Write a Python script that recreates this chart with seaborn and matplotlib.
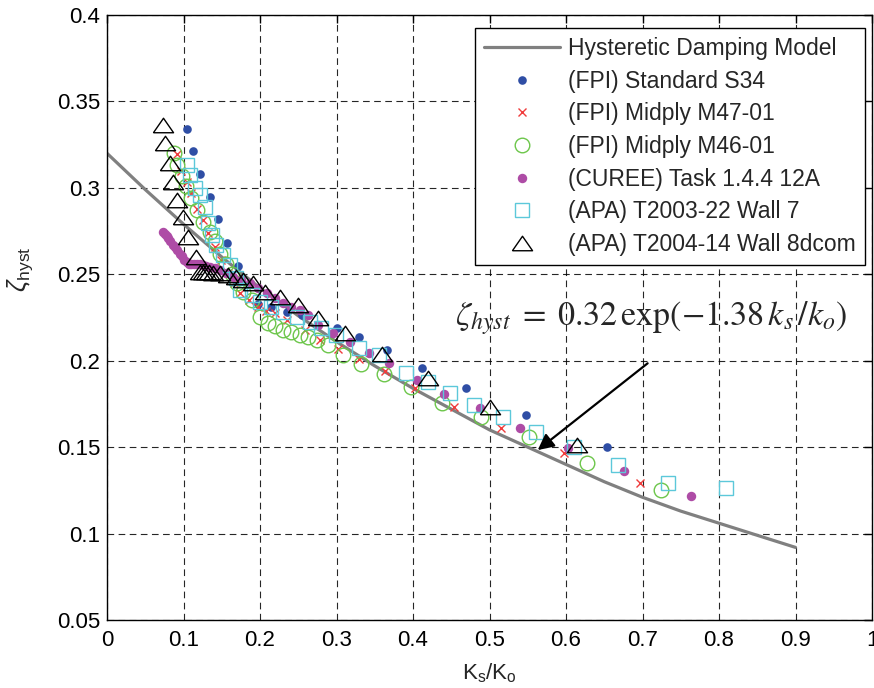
import matplotlib
matplotlib.use("Agg")
import matplotlib.pyplot as plt
import seaborn as sns
import pandas as pd

# ---------------- data ----------------
model_x = [0.0, 0.05, 0.1, 0.15, 0.2, 0.25, 0.3, 0.35, 0.4, 0.45, 0.5, 0.55, 0.6, 0.65, 0.7, 0.75, 0.8, 0.85, 0.9]
model_y = [0.320, 0.299, 0.279, 0.260, 0.242, 0.226, 0.211, 0.197, 0.184, 0.172, 0.160, 0.150, 0.140, 0.130,
           0.121, 0.113, 0.106, 0.099, 0.092]

s34_x = [0.105, 0.113, 0.122, 0.134, 0.145, 0.157, 0.171, 0.197, 0.215, 0.235, 0.2555, 0.300, 0.329, 0.366,
         0.412, 0.469, 0.548, 0.653]
s34_y = [0.334, 0.3215, 0.308, 0.295, 0.282, 0.268, 0.255, 0.233, 0.231, 0.228, 0.2264, 0.2187, 0.214, 0.206,
         0.196, 0.184, 0.1686, 0.150]

m47_x = [0.091, 0.097, 0.104, 0.110, 0.117, 0.126, 0.132, 0.141, 0.149, 0.158, 0.166, 0.174, 0.185, 0.197,
         0.208, 0.219, 0.235, 0.2585, 0.278, 0.302, 0.330, 0.363, 0.402, 0.454, 0.515, 0.598, 0.697]
m47_y = [0.3195, 0.310, 0.3035, 0.2968, 0.288, 0.2814, 0.2737, 0.266, 0.258, 0.251, 0.245, 0.239, 0.235, 0.231,
         0.229, 0.2274, 0.2236, 0.2178, 0.212, 0.207, 0.2008, 0.194, 0.184, 0.1734, 0.161, 0.1468, 0.129]

m46_x = [0.087, 0.092, 0.098, 0.103, 0.110, 0.117, 0.125, 0.134, 0.141, 0.148, 0.156, 0.163, 0.170, 0.178,
         0.189, 0.200, 0.210, 0.220, 0.230, 0.240, 0.252, 0.263, 0.275, 0.289, 0.308, 0.332, 0.362, 0.397,
         0.438, 0.489, 0.551, 0.627, 0.724]
m46_y = [0.320, 0.313, 0.307, 0.301, 0.294, 0.287, 0.280, 0.2746, 0.269, 0.262, 0.256, 0.250, 0.245, 0.240,
         0.235, 0.2254, 0.222, 0.220, 0.218, 0.2165, 0.2149, 0.2135, 0.212, 0.209, 0.2035, 0.198, 0.1923, 0.185,
         0.1757, 0.1673, 0.1557, 0.1407, 0.1252]

curee_x = [0.0736, 0.076, 0.078, 0.080, 0.083, 0.086, 0.089, 0.092, 0.095, 0.098, 0.101, 0.104, 0.107, 0.110,
           0.114, 0.118, 0.122, 0.126, 0.130, 0.135, 0.141, 0.148, 0.156, 0.165, 0.175, 0.1867, 0.197, 0.2085,
           0.219, 0.230, 0.241, 0.252, 0.263, 0.276, 0.2955, 0.317, 0.343, 0.3685, 0.405, 0.441, 0.487, 0.540,
           0.602, 0.676, 0.764]
curee_y = [0.2746, 0.2735, 0.2722, 0.2708, 0.2690, 0.2672, 0.2655, 0.2638, 0.2620, 0.2603, 0.2585, 0.2570,
           0.2562, 0.2560, 0.2560, 0.2560, 0.2558, 0.2555, 0.2550, 0.2545, 0.2538, 0.2525, 0.2505, 0.2485,
           0.2465, 0.2447, 0.2420, 0.239, 0.236, 0.2332, 0.231, 0.2293, 0.2264, 0.2207, 0.216, 0.211, 0.2047,
           0.1984, 0.1888, 0.181, 0.1725, 0.161, 0.1493, 0.136, 0.122]

w7_x = [0.104, 0.108, 0.115, 0.121, 0.128, 0.132, 0.1367, 0.143, 0.152, 0.1606, 0.168, 0.1736, 0.189, 0.200,
        0.215, 0.230, 0.248, 0.265, 0.280, 0.2998, 0.330, 0.356, 0.391, 0.419, 0.448, 0.4795, 0.518, 0.561,
        0.611, 0.668, 0.733, 0.809]
w7_y = [0.3132, 0.3074, 0.2998, 0.2959, 0.289, 0.2795, 0.2727, 0.2669, 0.2612, 0.2554, 0.248, 0.241, 0.238,
        0.2342, 0.231, 0.2283, 0.2254, 0.2226, 0.2187, 0.2149, 0.2072, 0.2033, 0.1931, 0.1879, 0.1811, 0.1744,
        0.1673, 0.159, 0.150, 0.1397, 0.1294, 0.1262]

w8_x = [0.0726, 0.0757, 0.0822, 0.0866, 0.0918, 0.0997, 0.106, 0.1157, 0.1214, 0.1250, 0.1290, 0.1330, 0.1380,
        0.1475, 0.1584, 0.169, 0.178, 0.191, 0.206, 0.226, 0.2497, 0.2759, 0.3107, 0.360, 0.4195, 0.500, 0.615]
w8_y = [0.3364, 0.3258, 0.3142, 0.3035, 0.293, 0.2833, 0.2718, 0.260, 0.2515, 0.2515, 0.2515, 0.2515, 0.2510,
        0.2505, 0.2496, 0.2486, 0.2467, 0.2448, 0.240, 0.237, 0.2322, 0.2246, 0.2158, 0.2039, 0.1898, 0.1734,
        0.151]

x_ticks = [0, 0.1, 0.2, 0.3, 0.4, 0.5, 0.6, 0.7, 0.8, 0.9, 1]
x_tick_labels = ["0", "0.1", "0.2", "0.3", "0.4", "0.5", "0.6", "0.7", "0.8", "0.9", "1"]
y_ticks = [0.05, 0.1, 0.15, 0.2, 0.25, 0.3, 0.35, 0.4]
y_tick_labels = ["0.05", "0.1", "0.15", "0.2", "0.25", "0.3", "0.35", "0.4"]

labels = ["Hysteretic Damping Model", "(FPI) Standard S34", "(FPI) Midply M47-01", "(FPI) Midply M46-01",
          "(CUREE) Task 1.4.4 12A", "(APA) T2003-22 Wall 7", "(APA) T2004-14 Wall 8dcom"]

# ---------------- style ----------------
sns.set_style("white")
plt.rcParams["font.family"] = ["Liberation Sans", "DejaVu Sans"]
plt.rcParams["mathtext.fontset"] = "custom"
plt.rcParams["mathtext.rm"] = "Liberation Sans"
plt.rcParams["mathtext.it"] = "Liberation Sans:italic"

fig = plt.figure(figsize=(8.74, 6.88), dpi=100)
ax = fig.add_axes([107 / 874, 1 - 620 / 688, 765 / 874, 605 / 688])

FS = 16

def draw(xs, ys, label, **kw):
    df = pd.DataFrame({"x": xs, "y": ys})
    sns.lineplot(data=df, x="x", y="y", sort=False, estimator=None, ax=ax, label=label, **kw)

draw(model_x, model_y, labels[0], color="#808080", linewidth=2.3, zorder=2)
draw(s34_x, s34_y, labels[1], linestyle="", marker="o", markersize=6.2, color="#2F4EA5",
     markerfacecolor="#2F4EA5", markeredgecolor="#2F4EA5", markeredgewidth=0, zorder=3)
draw(m47_x, m47_y, labels[2], linestyle="", marker="x", markersize=5.5, color="#F03C3C",
     markeredgecolor="#F03C3C", markeredgewidth=1.0, zorder=3)
draw(m46_x, m46_y, labels[3], linestyle="", marker="o", markersize=10.5, color="#6CC64A",
     markerfacecolor="none", markeredgecolor="#6CC64A", markeredgewidth=1.0, zorder=3)
draw(curee_x, curee_y, labels[4], linestyle="", marker="o", markersize=6.8, color="#AE4CA6",
     markerfacecolor="#AE4CA6", markeredgecolor="#AE4CA6", markeredgewidth=0, zorder=3)
draw(w7_x, w7_y, labels[5], linestyle="", marker="s", markersize=10, color="#5CC8DA",
     markerfacecolor="none", markeredgecolor="#5CC8DA", markeredgewidth=1.0, zorder=3)
tri = [(-1, -0.72), (1, -0.72), (0, 0.72), (-1, -0.72)]
draw(w8_x, w8_y, labels[6], linestyle="", marker=tri, markersize=14.5, color="black",
     markerfacecolor="none", markeredgecolor="black", markeredgewidth=1.0, zorder=4)

ax.set_xlim(0, 1)
ax.set_ylim(0.05, 0.4)
ax.set_xticks(x_ticks)
ax.set_xticklabels(x_tick_labels)
ax.set_yticks(y_ticks)
ax.set_yticklabels(y_tick_labels)
ax.tick_params(direction="in", length=6, width=1, top=True, right=True, labelsize=FS, colors="black", pad=5)
ax.tick_params(axis="x", pad=7)
ax.grid(True, color="black", linestyle=(0, (6, 4)), linewidth=0.8, alpha=0.85)
for sp in ax.spines.values():
    sp.set_visible(True)
    sp.set_color("black")
    sp.set_linewidth(1.0)

ax.set_xlabel(r"$\mathregular{K_s/K_o}$", fontsize=FS)
ax.set_ylabel(r"$\zeta_{\mathregular{hyst}}$", fontsize=FS + 2)
ax.xaxis.set_label_coords(0.5, -0.068)
ax.yaxis.set_label_coords(-0.094, 0.58)

leg = ax.legend(loc="upper right", bbox_to_anchor=(0.991, 0.9785), borderaxespad=0, fontsize=16.5,
                frameon=True, fancybox=False, framealpha=1, edgecolor="black", handlelength=3.3,
                handletextpad=0.36, labelspacing=0.42, borderpad=0.4, numpoints=1)
leg.get_frame().set_linewidth(1.0)
leg.set_zorder(10)

ax.text(0.711, 0.2247, r"$\zeta_{hyst}\;=\;0.32\,\exp(-1.38\,k_s\,/k_o)$", fontsize=24.5,
        math_fontfamily="stix", ha="center", va="center", zorder=6)
ax.annotate("", xy=(0.563, 0.1483), xytext=(0.7067, 0.1985),
            arrowprops=dict(arrowstyle="-|>", color="black", lw=1.6, mutation_scale=24,
                            shrinkA=0, shrinkB=0), zorder=6)

fig.savefig("out.png", dpi=100)
